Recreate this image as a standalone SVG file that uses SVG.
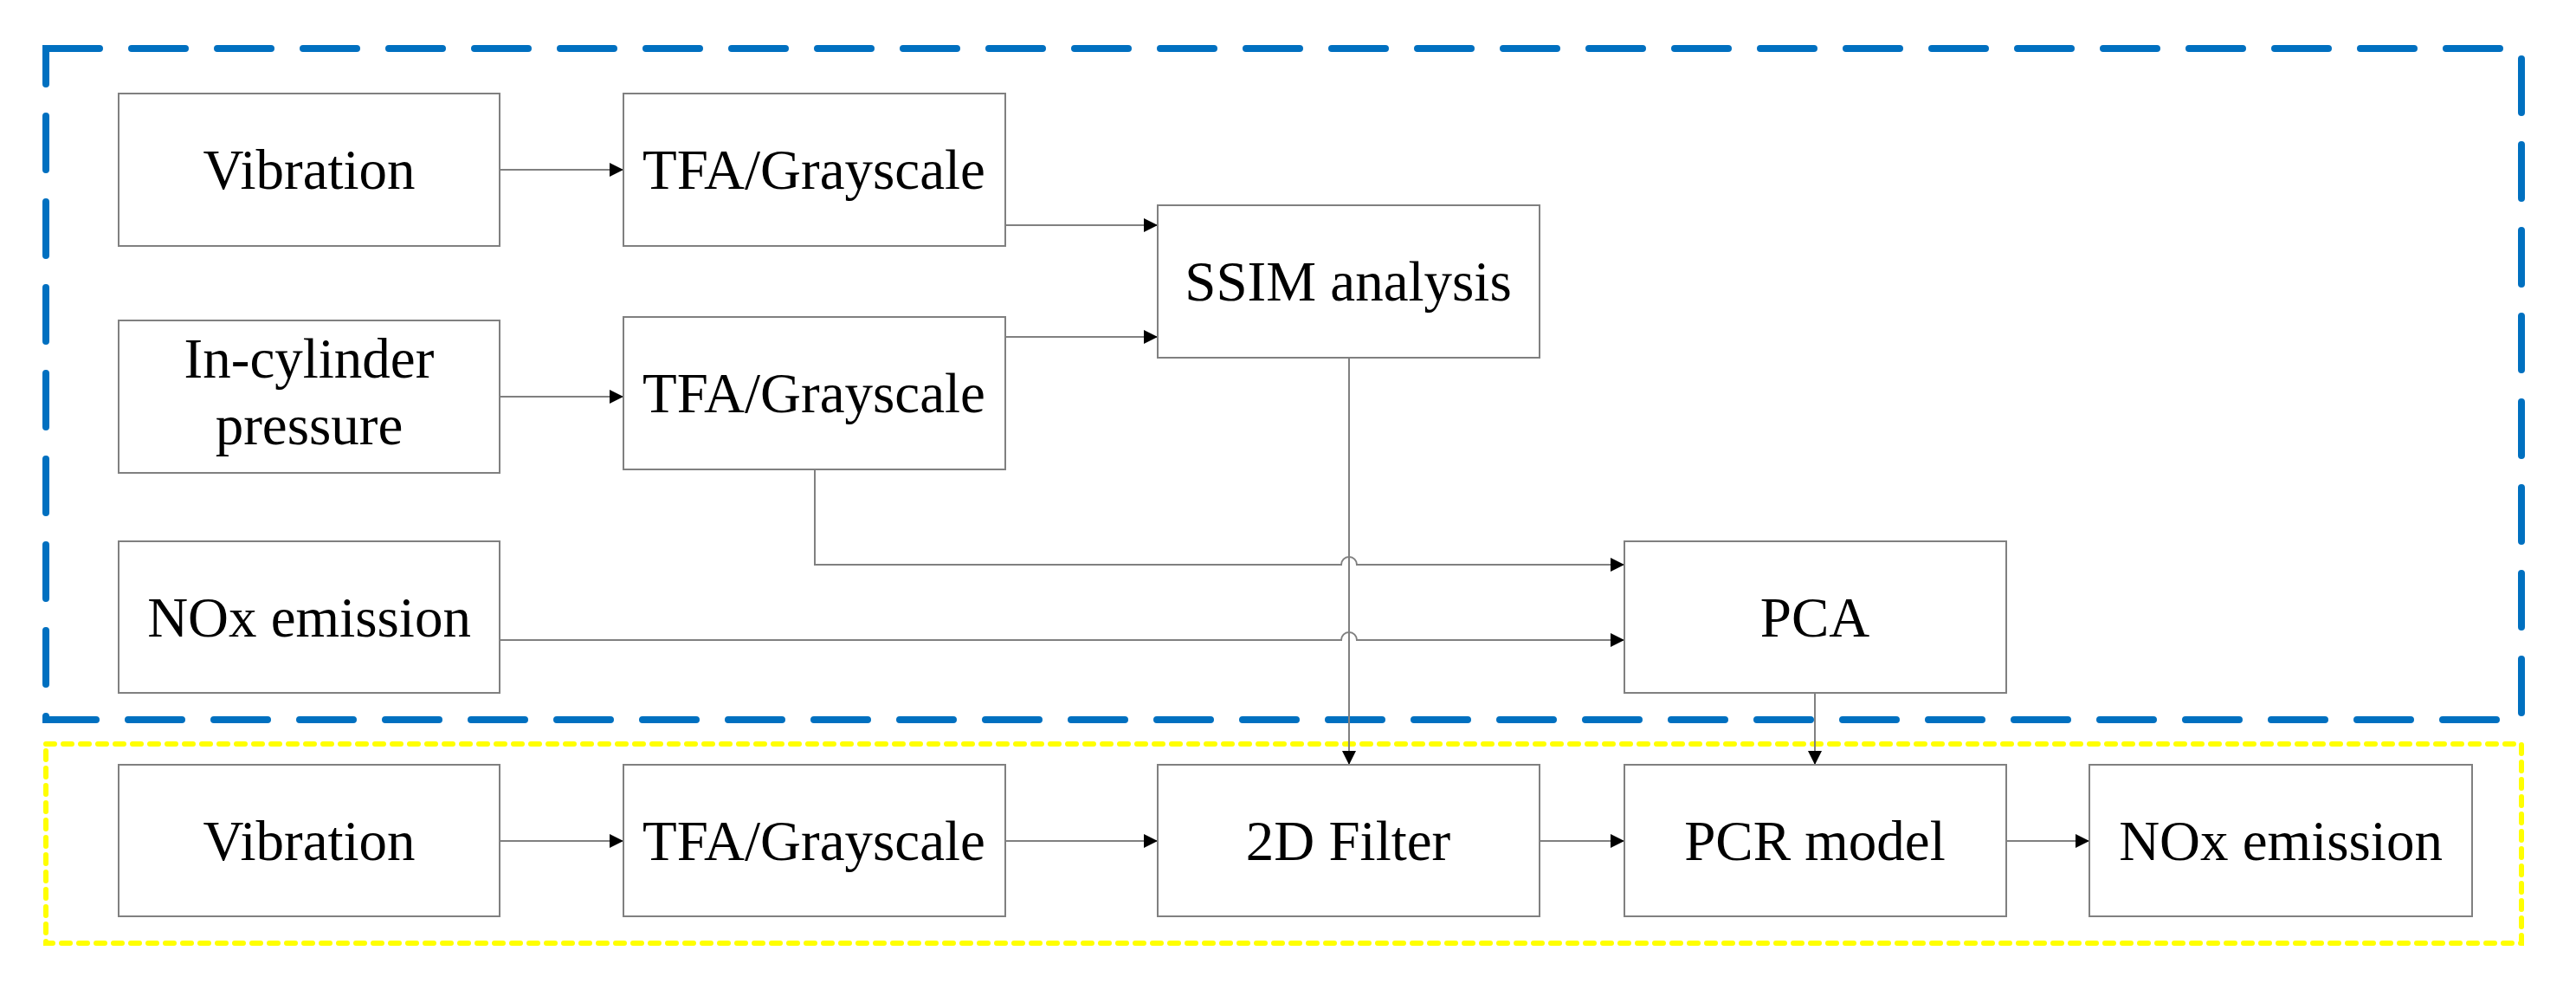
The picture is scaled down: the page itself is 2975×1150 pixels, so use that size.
<svg xmlns="http://www.w3.org/2000/svg" width="2975" height="1150" viewBox="0 0 2975 1150">
<style>
.b{fill:#fff;stroke:#808080;stroke-width:2}
.t{font-family:"Liberation Serif","Times New Roman",serif;font-size:65px;fill:#000;text-anchor:middle}
.c{fill:none;stroke:#808080;stroke-width:2}
</style>
<defs><marker id="a" viewBox="0 0 10 10" refX="10" refY="5" markerWidth="20" markerHeight="16" markerUnits="userSpaceOnUse" orient="auto"><path d="M0,0L10,5L0,10z" fill="#000"/></marker></defs>
<rect x="53" y="56" width="2859" height="775" fill="none" stroke="#0070C0" stroke-width="8" stroke-dasharray="62,37" stroke-linecap="round"/>
<rect x="53" y="859" width="2859" height="230" fill="none" stroke="#FFFF00" stroke-width="6" stroke-dasharray="10,10" stroke-linecap="round"/>
<g id="connectors">
<path class="c" d="M577,196H720" marker-end="url(#a)"/>
<path class="c" d="M1161,260H1337" marker-end="url(#a)"/>
<path class="c" d="M577,458H720" marker-end="url(#a)"/>
<path class="c" d="M1161,389H1337" marker-end="url(#a)"/>
<path class="c" d="M941,542V652H1549A9,9 0 0 1 1567,652H1876" marker-end="url(#a)"/>
<path class="c" d="M577,739H1549A9,9 0 0 1 1567,739H1876" marker-end="url(#a)"/>
<path class="c" d="M1558,413V883" marker-end="url(#a)"/>
<path class="c" d="M2096,800V883" marker-end="url(#a)"/>
<path class="c" d="M577,971H720" marker-end="url(#a)"/>
<path class="c" d="M1161,971H1337" marker-end="url(#a)"/>
<path class="c" d="M1778,971H1876" marker-end="url(#a)"/>
<path class="c" d="M2317,971H2413" marker-end="url(#a)"/>
</g>
<g id="vib1"><rect class="b" x="137" y="108" width="440" height="176"/><text class="t" x="357" y="218">Vibration</text></g>
<g id="tfa1"><rect class="b" x="720" y="108" width="441" height="176"/><text class="t" x="940" y="218">TFA/Grayscale</text></g>
<g id="ssim"><rect class="b" x="1337" y="237" width="441" height="176"/><text class="t" x="1557" y="347">SSIM analysis</text></g>
<g id="cyl"><rect class="b" x="137" y="370" width="440" height="176"/><text class="t" x="357" y="436">In-cylinder</text><text class="t" x="357" y="513">pressure</text></g>
<g id="tfa2"><rect class="b" x="720" y="366" width="441" height="176"/><text class="t" x="940" y="476">TFA/Grayscale</text></g>
<g id="nox1"><rect class="b" x="137" y="625" width="440" height="175"/><text class="t" x="357" y="735">NOx emission</text></g>
<g id="pca"><rect class="b" x="1876" y="625" width="441" height="175"/><text class="t" x="2096" y="735">PCA</text></g>
<g id="vib2"><rect class="b" x="137" y="883" width="440" height="175"/><text class="t" x="357" y="993">Vibration</text></g>
<g id="tfa3"><rect class="b" x="720" y="883" width="441" height="175"/><text class="t" x="940" y="993">TFA/Grayscale</text></g>
<g id="filt"><rect class="b" x="1337" y="883" width="441" height="175"/><text class="t" x="1557" y="993">2D Filter</text></g>
<g id="pcr"><rect class="b" x="1876" y="883" width="441" height="175"/><text class="t" x="2096" y="993">PCR model</text></g>
<g id="nox2"><rect class="b" x="2413" y="883" width="442" height="175"/><text class="t" x="2634" y="993">NOx emission</text></g>
</svg>
